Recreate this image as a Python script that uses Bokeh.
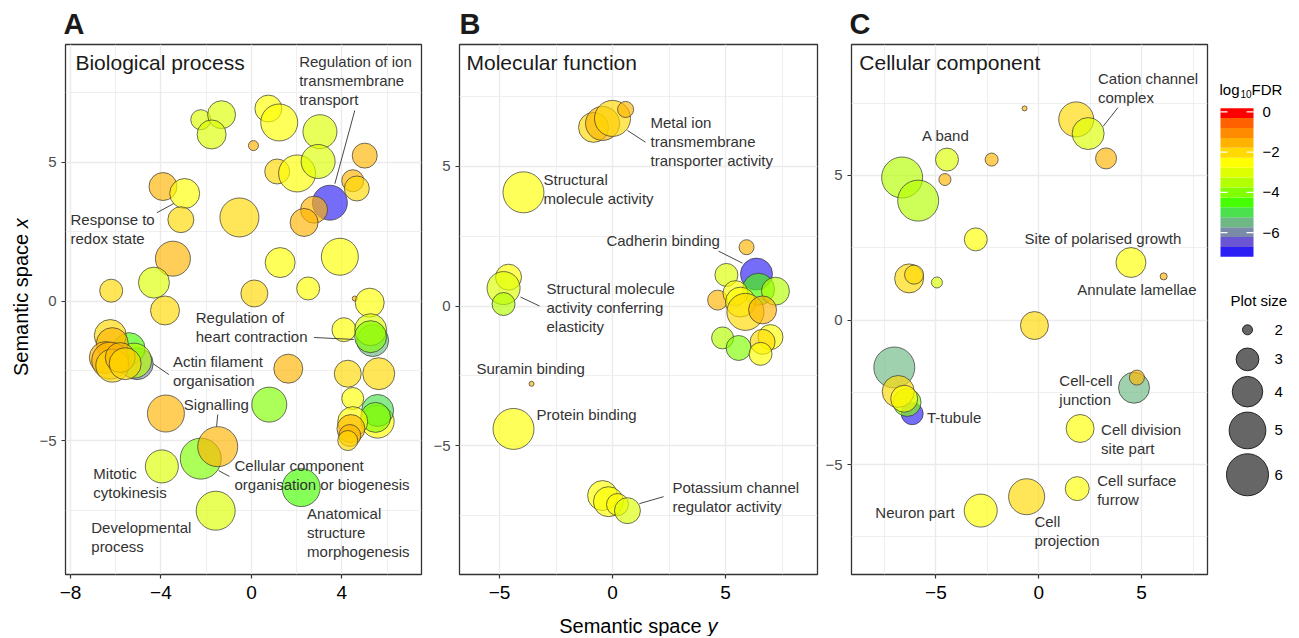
import math
import numpy as np
from bokeh.plotting import figure
from bokeh.models import Range1d, FixedTicker, LinearColorMapper, ColumnDataSource
from bokeh.layouts import row, column
from bokeh.embed import file_html
from bokeh.resources import INLINE
from bokeh.core.properties import value

FONT = "Liberation Sans"

# ---------------- data: Biological process ----------------
A_x = [-2.24, -1.32, -1.76, 0.09, 0.75, 1.23, 3.03, 5.01, 1.14, 2.02, 2.95, 4.48, 4.66, 3.47, 2.77, 2.33,
       -3.91, -2.95, -3.12, -0.53, -3.47, 1.27, 3.91, -4.31, -6.20, 0.13, 2.51, 4.57, 5.23, -3.82, 4.09,
       5.36, 5.27, 5.27, 1.63, 4.26, 5.63, 4.48, 5.58, 5.58, 5.49, 4.48, 4.40, 4.35, 4.26,
       -5.05, -5.41, -5.19, -6.24, -6.15, -6.46, -6.24, -6.15, -5.80, -5.58,
       -3.78, 0.79, -2.24, -1.49, -3.96, 2.20, -1.58]
A_y = [6.52, 6.70, 5.99, 5.59, 6.92, 6.42, 6.09, 5.23, 4.66, 4.59, 5.02, 4.33, 4.05, 3.54, 3.29, 2.83,
       4.12, 3.87, 2.93, 3.01, 1.53, 1.39, 1.60, 0.67, 0.38, 0.28, 0.46, 0.10, -0.05, -0.33, -1.02,
       -1.41, -1.02, -1.27, -2.42, -2.60, -2.60, -3.49, -4.32, -3.92, -4.17, -4.32, -4.57, -4.82, -5.00,
       -2.24, -1.70, -2.13, -1.23, -1.52, -2.02, -2.13, -2.31, -2.02, -2.24,
       -4.03, -3.71, -5.65, -5.22, -5.93, -6.69, -7.52]
A_size = [2.72, 3.64, 3.78, 2.00, 3.51, 5.05, 4.54, 3.26, 3.26, 5.05, 4.54, 2.92, 3.26, 4.70, 3.51, 3.64,
          3.64, 3.92, 3.38, 5.42, 4.70, 3.92, 5.05, 4.07, 3.03, 3.51, 3.03, 1.82, 3.78, 3.78, 3.14,
          4.22, 4.22, 4.22, 3.78, 3.51, 4.22, 2.92, 4.38, 4.22, 3.92, 3.92, 3.64, 2.92, 2.72,
          4.22, 4.22, 4.70, 4.22, 4.22, 4.22, 5.05, 4.38, 3.92, 4.22,
          5.05, 4.70, 5.80, 5.61, 4.38, 5.23, 5.42]
A_fdr = [-3.0, -3.2, -3.1, -1.6, -2.4, -2.4, -3.1, -1.6, -1.9, -2.5, -3.0, -1.6, -1.9, -7.0, -1.5, -1.6,
         -1.6, -2.4, -1.9, -1.9, -1.7, -2.4, -2.4, -3.0, -1.9, -1.9, -2.3, -1.6, -2.5, -1.9, -2.5,
         -5.6, -3.0, -3.8, -1.6, -1.9, -1.9, -2.4, -2.4, -4.9, -4.2, -2.3, -1.4, -1.5, -1.9,
         -6.0, -4.5, -3.4, -1.9, -1.6, -1.4, -1.5, -1.9, -1.6, -2.2,
         -1.6, -3.8, -3.9, -1.6, -3.1, -4.6, -3.0]
A_labels = ["Regulation of ion\ntransmembrane\ntransport", "Response to\nredox state",
            "Regulation of\nheart contraction", "Actin filament\norganisation", "Signalling",
            "Mitotic\ncytokinesis", "Cellular component\norganisation or biogenesis",
            "Developmental\nprocess", "Anatomical\nstructure\nmorphogenesis"]
A_lab_x = [2.11, -8.00, -2.46, -3.47, -2.99, -6.99, -0.75, -7.08, 2.46]
A_lab_y = [8.61, 2.94, -0.59, -2.17, -3.71, -6.19, -5.90, -8.13, -7.62]
A_seg = [(4.57, 6.85, 3.69, 4.22), (-4.18, 3.18, -3.43, 3.51), (2.77, -1.30, 4.53, -1.37),
         (-3.65, -2.63, -4.35, -2.24), (-1.49, -4.07, -1.54, -4.50), (-0.97, -6.29, -1.45, -6.08)]

# ---------------- data: Molecular function ----------------
B_x = [-0.84, -0.44, 0.00, 0.58, -3.94, 5.93, -4.60, -4.82, -4.82, 5.04, 6.37, 6.46, 7.21, 4.65, 5.44,
       5.66, 5.88, 6.64, 4.87, 5.58, 6.99, 6.64, 6.55, -3.58, -4.38, -0.44, -0.18, 0.22, 0.66]
B_y = [6.38, 6.52, 6.70, 7.02, 4.06, 2.10, 1.03, 0.64, 0.07, 1.11, 1.14, 0.60, 0.53, 0.21, 0.46,
       0.14, -0.21, -0.14, -1.14, -1.50, -1.11, -1.28, -1.71, -2.78, -4.39, -6.77, -6.99, -7.09, -7.31]
B_size = [3.92, 4.54, 4.88, 2.38, 5.80, 2.30, 3.38, 4.38, 3.03, 3.03, 4.22, 4.22, 3.64, 2.72, 3.26,
          3.92, 5.05, 3.64, 2.92, 3.26, 3.26, 3.26, 3.03, 1.82, 5.80, 3.92, 3.92, 2.92, 3.38]
B_fdr = [-1.8, -1.5, -1.8, -1.6, -2.5, -1.7, -2.6, -3.0, -3.3, -3.1, -7.0, -4.4, -3.6, -1.6, -2.6,
         -2.4, -1.9, -1.5, -3.3, -3.8, -2.3, -1.9, -2.4, -1.7, -2.4, -2.3, -2.5, -2.4, -3.0]
B_labels = ["Metal ion\ntransmembrane\ntransporter activity", "Structural\nmolecule activity",
            "Cadherin binding", "Structural molecule\nactivity conferring\nelasticity",
            "Suramin binding", "Protein binding", "Potassium channel\nregulator activity"]
B_lab_x = [1.68, -3.05, -0.27, -2.92, -6.02, -3.36, 2.65]
B_lab_y = [6.56, 4.53, 2.35, 0.61, -2.25, -3.89, -6.49]
B_seg = [(0.66, 6.27, 1.46, 5.85), (4.69, 1.96, 5.75, 1.53), (-4.07, 0.32, -3.23, 0.0),
         (1.19, -7.06, 2.26, -6.81)]

# ---------------- data: Cellular component ----------------
C_x = [-0.69, 1.82, 2.40, 3.27, -4.46, -2.29, -4.56, -6.64, -5.86, -3.06, 4.48, 6.07, -6.30, -6.06,
       -4.95, -0.21, -7.02, -6.15, -6.40, -6.83, -6.54, 4.63, 4.77, 2.01, 1.87, -0.59, -2.82]
C_y = [7.32, 6.94, 6.45, 5.59, 5.55, 5.55, 4.86, 4.93, 4.13, 2.79, 1.99, 1.51, 1.44, 1.57,
       1.30, -0.19, -1.64, -3.24, -2.85, -2.47, -2.72, -2.34, -1.99, -3.75, -5.83, -6.11, -6.59]
C_size = [1.82, 4.70, 4.22, 2.82, 3.03, 2.17, 2.11, 5.80, 5.80, 3.03, 3.92, 1.88, 3.78, 2.63,
          2.05, 3.64, 5.80, 2.92, 3.64, 4.22, 3.51, 4.07, 2.30, 3.64, 3.14, 4.88, 4.38]
C_fdr = [-1.7, -2.0, -3.0, -1.7, -2.9, -1.6, -1.6, -3.5, -3.5, -2.4, -2.4, -1.6, -1.9, -2.1,
         -2.8, -1.9, -5.5, -7.0, -3.8, -1.9, -2.3, -5.5, -1.6, -2.6, -2.6, -2.0, -2.5]
C_labels = ["Cation channel\ncomplex", "A band", "Site of polarised growth", "Annulate lamellae",
            "Cell-cell\njunction", "T-tubule", "Cell division\nsite part", "Cell surface\nfurrow",
            "Neuron part", "Cell\nprojection"]
C_lab_x = [2.88, -5.67, -0.69, 1.87, 1.00, -5.43, 3.03, 2.84, -7.94, -0.21]
C_lab_y = [8.36, 6.38, 2.82, 1.06, -2.09, -3.37, -3.79, -5.55, -6.66, -6.97]
C_seg = [(3.85, 7.35, 3.13, 6.70)]

# ---------------- legend / titles ----------------
FDR_TICKS = [0, -2, -4, -6]
FDR_TICK_LABELS = ["0", "\u22122", "\u22124", "\u22126"]
SIZE_KEYS = [2, 3, 4, 5, 6]
PANEL_LETTERS = ["A", "B", "C"]
PALETTE = ["#2B1EF5", "#6A55D2", "#7A8BA8", "#6DB884", "#4AE04E", "#45FF00", "#80FF00", "#B3FF00",
           "#DDFF00", "#FFFF00", "#FFD900", "#FFB300", "#FF8C00", "#FF6000", "#FF0000"]
FDR_LOW, FDR_HIGH = -7.2, 0.18

mapper = LinearColorMapper(palette=PALETTE, low=FDR_LOW, high=FDR_HIGH)


def size_px(v):
    return np.sqrt(100 + 416 * (np.asarray(v, dtype=float) - 2))


TOTAL_W = 1291
HEAD_H = 40
MID_H = 574
FOOT_H = 22
YLAB_W = 36


def blank(width, height, xr, yr):
    p = figure(width=width, height=height, x_range=Range1d(*xr), y_range=Range1d(*yr),
               output_backend="svg", toolbar_location=None,
               min_border_left=0, min_border_right=0, min_border_top=0, min_border_bottom=0)
    p.axis.visible = False
    p.grid.visible = False
    p.outline_line_color = None
    p.background_fill_color = "white"
    p.border_fill_color = "white"
    return p


def make_panel(title, xs, ys, sz, fdr, xr, yr, xt, xmt, yt, ymt, xover,
               labels, lx, ly, segs, bl, br, width, title_xy):
    p = figure(width=width, height=MID_H, x_range=Range1d(*xr), y_range=Range1d(*yr),
               output_backend="svg", toolbar_location=None,
               min_border_left=bl, min_border_right=br, min_border_top=4, min_border_bottom=40)
    p.background_fill_color = "white"
    p.border_fill_color = "white"
    p.outline_line_color = "#333333"
    p.outline_line_width = 1.3
    xtick = FixedTicker(ticks=xt, minor_ticks=xmt)
    ytick = FixedTicker(ticks=yt, minor_ticks=ymt)
    p.xaxis.ticker = xtick
    p.yaxis.ticker = ytick
    p.xgrid.ticker = xtick
    p.ygrid.ticker = ytick
    for g in (p.xgrid, p.ygrid):
        g.grid_line_color = "#EBEBEB"
        g.grid_line_width = 1.4
        g.minor_grid_line_color = "#EBEBEB"
        g.minor_grid_line_width = 0.8
    for ax in (p.xaxis, p.yaxis):
        ax.axis_line_color = None
        ax.major_tick_line_color = "#333333"
        ax.major_tick_line_width = 1.2
        ax.major_tick_out = 4
        ax.major_tick_in = 0
        ax.minor_tick_line_color = None
        ax.major_label_text_font = FONT
    p.xaxis.major_label_text_font_size = "19px"
    p.xaxis.major_label_text_color = "black"
    p.xaxis.major_label_standoff = 7
    p.xaxis.major_label_overrides = xover
    p.yaxis.major_label_text_font_size = "15px"
    p.yaxis.major_label_text_color = "#4D4D4D"
    p.yaxis.major_label_standoff = 5

    src = ColumnDataSource(dict(x=xs, y=ys, s=size_px(sz), f=fdr))
    p.scatter("x", "y", size="s", source=src,
              fill_color={"field": "f", "transform": mapper}, fill_alpha=0.65,
              line_color="#333333", line_alpha=0.7, line_width=1)

    if segs:
        p.segment(x0=[s[0] for s in segs], y0=[s[1] for s in segs],
                  x1=[s[2] for s in segs], y1=[s[3] for s in segs],
                  line_color="#333333", line_width=0.9)

    tx, ty, tt, to = [], [], [], []
    for t, x, y in zip(labels, lx, ly):
        for i, line in enumerate(t.split("\n")):
            tx.append(x); ty.append(y); tt.append(line); to.append(i * 19)
    p.text(x=tx, y=ty, text=tt, y_offset=to, text_align="left", text_baseline="middle",
           text_font=value(FONT), text_font_size="15px", text_color="#333333")

    p.text(x=[title_xy[0]], y=[title_xy[1]], text=[title], text_align="left", text_baseline="middle",
           text_font=value(FONT), text_font_size="21px", text_color="#1a1a1a")
    return p


pA = make_panel("Biological process", A_x, A_y, A_size, A_fdr,
                (-8.22, 7.52), (-9.81, 9.22), [-8, -4, 0, 4], [-6, -2, 2, 6],
                [-5, 0, 5], [-7.5, -2.5, 2.5, 7.5], {-8: "\u22128", -4: "\u22124"},
                A_labels, A_lab_x, A_lab_y, A_seg, 27, 5, 390, (-7.78, 8.57))
pB = make_panel("Molecular function", B_x, B_y, B_size, B_fdr,
                (-6.77, 9.07), (-9.59, 9.34), [-5, 0, 5], [-2.5, 2.5, 7.5],
                [-5, 0, 5], [-7.5, -2.5, 2.5, 7.5], {-5: "\u22125"},
                B_labels, B_lab_x, B_lab_y, B_seg, 33, 5, 396, (-6.46, 8.70))
pC = make_panel("Cellular component", C_x, C_y, C_size, C_fdr,
                (-9.10, 8.20), (-8.80, 9.53), [-5, 0, 5], [-7.5, -2.5, 2.5, 7.5],
                [-5, 0, 5], [-7.5, -2.5, 2.5, 7.5], {-5: "\u22125"},
                C_labels, C_lab_x, C_lab_y, C_seg, 27, 2, 387, (-8.72, 8.91))

# ---------------- header with panel letters ----------------
head = blank(TOTAL_W, HEAD_H, (0, TOTAL_W), (HEAD_H, 0))
head.text(x=[63, 459, 849], y=[23, 23, 23], text=PANEL_LETTERS, text_align="left",
          text_baseline="middle", text_font=value(FONT), text_font_size="29px",
          text_font_style="bold", text_color="#1a1a1a")

# ---------------- y-axis title strip ----------------
ylab = blank(YLAB_W, MID_H, (0, YLAB_W), (MID_H, 0))
ylab.text(x=[20], y=[205], text=["Semantic space"], angle=math.pi / 2, text_align="right",
          text_baseline="middle", text_font=value(FONT), text_font_size="20px", text_color="black")
ylab.text(x=[20], y=[199], text=["x"], angle=math.pi / 2, text_align="left",
          text_baseline="middle", text_font=value(FONT), text_font_size="20px",
          text_font_style="italic", text_color="black")

# ---------------- footer with x-axis title ----------------
foot = blank(TOTAL_W, FOOT_H, (0, TOTAL_W), (FOOT_H, 0))
foot.text(x=[701], y=[11], text=["Semantic space"], text_align="right", text_baseline="middle",
          text_font=value(FONT), text_font_size="20px", text_color="black")
foot.text(x=[707], y=[11], text=["y"], text_align="left", text_baseline="middle",
          text_font=value(FONT), text_font_size="20px", text_font_style="italic", text_color="black")

# ---------------- legend figure ----------------
LW = 82
pL = blank(LW, MID_H, (0, LW), (MID_H, 0))
pL.extra_y_ranges = {"fdr": Range1d(-22.97, 3.343)}

edges = np.linspace(FDR_LOW, FDR_HIGH, len(PALETTE) + 1)
pL.quad(left=11, right=44, bottom=edges[:-1], top=edges[1:], fill_color=PALETTE,
        line_color=None, y_range_name="fdr")
pL.segment(x0=[11] * 4 + [37] * 4, x1=[18] * 4 + [44] * 4, y0=FDR_TICKS * 2, y1=FDR_TICKS * 2,
           line_color="white", line_width=1.2, y_range_name="fdr")
pL.text(x=[53] * 4, y=FDR_TICKS, text=FDR_TICK_LABELS, text_align="left", text_baseline="middle",
        text_font=value(FONT), text_font_size="15px", text_color="black", y_range_name="fdr")
pL.text(x=[10, 31, 42], y=[49, 54, 49], text=["log", "10", "FDR"],
        text_font_size=["15px", "10px", "15px"], text_align="left", text_baseline="middle",
        text_font=value(FONT), text_color="black")

pL.text(x=[21], y=[277], text=["Plot size"], text_align="left", text_baseline="middle",
        text_font=value(FONT), text_font_size="15px", text_color="black")
key_y = [309, 341, 376, 418, 466]
pL.scatter(x=[38] * 5, y=key_y, size=size_px(SIZE_KEYS), fill_color="#666666",
           line_color="#222222", line_width=1)
pL.text(x=[65] * 5, y=key_y, text=[str(k) for k in SIZE_KEYS], text_align="left",
        text_baseline="middle", text_font=value(FONT), text_font_size="15px", text_color="black")

layout = column(head, row(ylab, pA, pB, pC, pL), foot)
open("out.html", "w").write(file_html(layout, INLINE))
